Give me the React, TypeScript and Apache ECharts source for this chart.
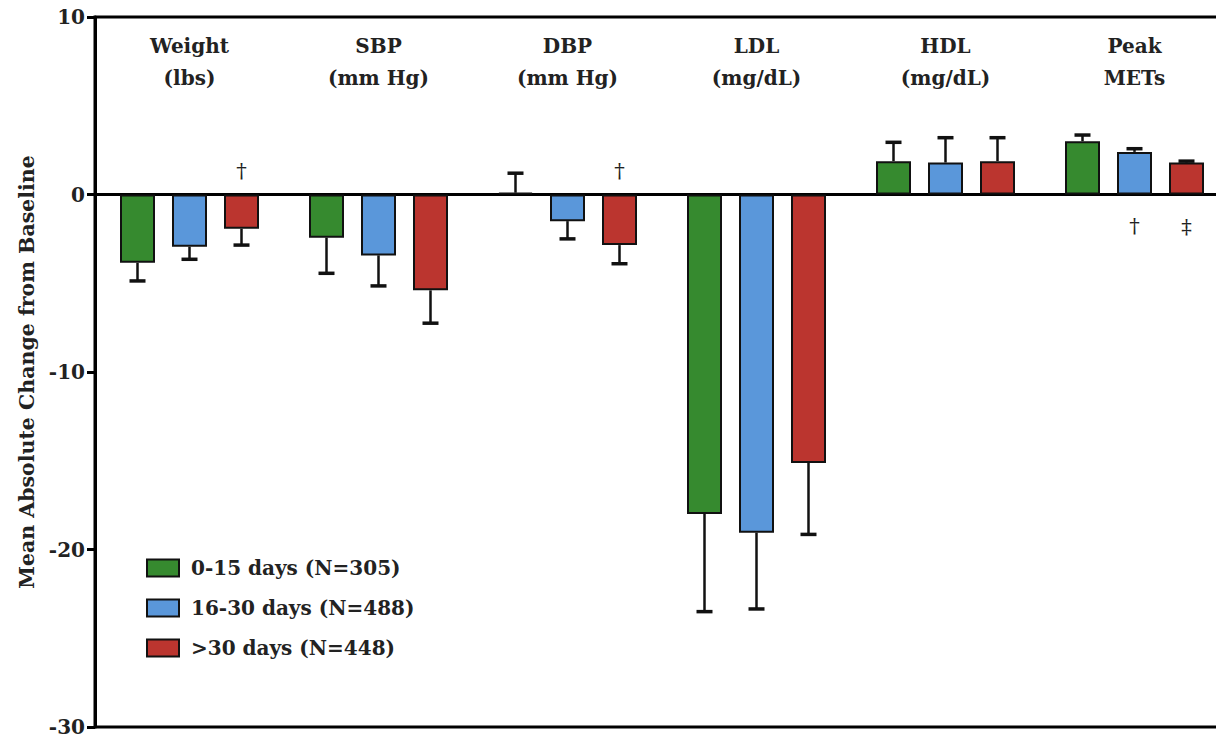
import React, { useEffect, useRef } from "react";
import * as echarts from "echarts";

const categories = ["Weight\n(lbs)", "SBP\n(mm Hg)", "DBP\n(mm Hg)", "LDL\n(mg/dL)", "HDL\n(mg/dL)", "Peak\nMETs"];
const seriesNames = ["0-15 days (N=305)", "16-30 days (N=488)", ">30 days (N=448)"];
const colors = ["#368a2f", "#5a97da", "#bb352f"];

const means0_15 = [-3.85, -2.43, 0.1, -18.0, 1.88, 3.0];
const means16_30 = [-2.94, -3.43, -1.5, -19.05, 1.8, 2.4];
const means30plus = [-1.93, -5.4, -2.85, -15.12, 1.88, 1.8];

const errEnd0_15 = [-4.87, -4.44, 1.2, -23.5, 2.94, 3.35];
const errEnd16_30 = [-3.65, -5.15, -2.5, -23.35, 3.2, 2.58];
const errEnd30plus = [-2.85, -7.25, -3.9, -19.15, 3.2, 1.88];

const annotCat = [0, 2, 5, 5];
const annotSeries = [2, 2, 1, 2];
const annotY = [1.3, 1.35, -1.8, -1.85];
const annotText = ["†", "†", "†", "‡"];

const yTicks = { min: -30, max: 10, interval: 10 };

const BAR_W = 35;
const BAR_GAP = 17;
const FONT = "DejaVu Serif";

export default function App() {
  const ref = useRef<HTMLDivElement>(null);
  useEffect(() => {
    document.body.style.margin = "0";
    const chart = echarts.init(ref.current!, null, { renderer: "svg" });
    const means = [means0_15, means16_30, means30plus];
    const ends = [errEnd0_15, errEnd16_30, errEnd30plus];
    const offsetOf = (s: number) => (s - 1) * (BAR_W + BAR_GAP);

    const barSeries = seriesNames.map((name, s) => ({
      name,
      type: "bar",
      data: means[s],
      barWidth: BAR_W,
      barGap: (BAR_GAP / BAR_W) * 100 + "%",
      itemStyle: { color: colors[s], borderColor: "#111", borderWidth: 2 },
      z: 3,
    }));

    const errSeries = seriesNames.map((name, s) => ({
      name: name + " err",
      type: "custom",
      z: 4,
      data: means[s].map((m, i) => [i, m, ends[s][i]]),
      renderItem: (params: any, api: any) => {
        const i = api.value(0);
        const p0 = api.coord([i, api.value(1)]);
        const p1 = api.coord([i, api.value(2)]);
        const x = p0[0] + offsetOf(s);
        const style = { stroke: "#111", lineWidth: 2.5 };
        return {
          type: "group",
          children: [
            { type: "line", shape: { x1: x, y1: p0[1], x2: x, y2: p1[1] }, style },
            { type: "line", shape: { x1: x - 8, y1: p1[1], x2: x + 8, y2: p1[1] }, style: { stroke: "#111", lineWidth: 3.5 } },
          ],
        };
      },
    }));

    const annotSeriesDef = {
      name: "annotations",
      type: "custom",
      z: 5,
      data: annotCat.map((c, k) => [c, annotY[k], annotSeries[k], k]),
      renderItem: (params: any, api: any) => {
        const p = api.coord([api.value(0), api.value(1)]);
        const k = api.value(3);
        return {
          type: "text",
          x: p[0] + offsetOf(api.value(2)),
          y: p[1],
          style: {
            text: annotText[k],
            fontFamily: FONT,
            fontSize: 21,
            fill: "#222",
            align: "center",
            verticalAlign: "middle",
          },
        };
      },
    };

    chart.setOption({
      animation: false,
      backgroundColor: "#fff",
      grid: {
        left: 95,
        top: 17,
        width: 1134,
        height: 710,
        show: true,
        borderColor: "#000",
        borderWidth: 3,
        containLabel: false,
        outerBoundsMode: "none",
      },
      legend: {
        data: seriesNames,
        orient: "vertical",
        left: 141,
        top: 553,
        itemWidth: 32,
        itemHeight: 17,
        itemGap: 20,
        icon: "rect",
        textStyle: {
          fontFamily: FONT,
          fontWeight: "bold",
          fontSize: 20,
          color: "#222",
          padding: [0, 0, 0, 7],
        },
      },
      xAxis: [
        {
          type: "category",
          data: categories,
          axisLine: { onZero: true, lineStyle: { color: "#000", width: 3 } },
          axisTick: { show: false },
          axisLabel: { show: false },
          splitLine: { show: false },
        },
        {
          type: "category",
          data: categories,
          position: "top",
          axisLine: { show: false, onZero: false },
          axisTick: { show: false },
          axisLabel: {
            inside: true,
            margin: 13,
            fontFamily: FONT,
            fontWeight: "bold",
            fontSize: 20,
            lineHeight: 32,
            color: "#222",
            verticalAlign: "top",
          },
        },
      ],
      yAxis: {
        type: "value",
        min: yTicks.min,
        max: yTicks.max,
        interval: yTicks.interval,
        name: "Mean Absolute Change from Baseline",
        nameLocation: "middle",
        nameGap: 56,
        nameTextStyle: { fontFamily: FONT, fontWeight: "bold", fontSize: 20.5, color: "#222" },
        axisLine: { show: true, lineStyle: { color: "#000", width: 3 } },
        axisTick: { show: true, length: 8, lineStyle: { color: "#000", width: 3 } },
        axisLabel: { fontFamily: FONT, fontWeight: "bold", fontSize: 20, color: "#222", margin: 10 },
        splitLine: { show: false },
      },
      series: [...barSeries, ...errSeries, annotSeriesDef],
    });
    return () => chart.dispose();
  }, []);
  return <div ref={ref} style={{ width: 1216, height: 740 }} />;
}
